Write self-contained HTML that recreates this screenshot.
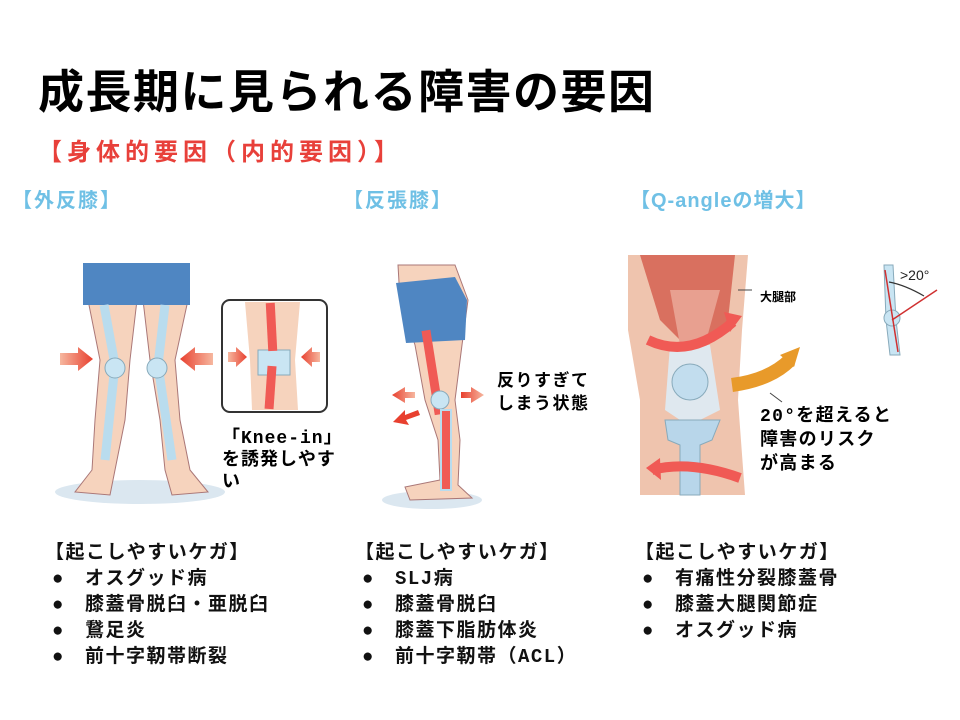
<!DOCTYPE html>
<html><head><meta charset="utf-8"><style>
body{margin:0;width:960px;height:720px;background:#fff;position:relative;overflow:hidden;font-family:"Liberation Sans","Noto Sans CJK JP",sans-serif;}
.t{position:absolute;white-space:nowrap;font-weight:bold;}
.h{color:#6fc0e5;font-size:20px;letter-spacing:2px;}
.m{font-family:"Liberation Mono","Noto Sans CJK JP",monospace;}
.l{font-size:19px;line-height:26px;color:#111;letter-spacing:1.5px;font-family:"Liberation Mono","Noto Sans CJK JP",monospace;}
.l span{display:inline-block;width:40px;padding-left:7px;box-sizing:border-box;letter-spacing:0;}
svg{position:absolute;left:0;top:0;}
</style></head><body>
<svg width="960" height="720">
<defs>
<linearGradient id="ar" x1="0" x2="1"><stop offset="0" stop-color="#f6b79f"/><stop offset="1" stop-color="#e8402f"/></linearGradient>
<linearGradient id="al" x1="1" x2="0"><stop offset="0" stop-color="#f6b79f"/><stop offset="1" stop-color="#e8402f"/></linearGradient>
</defs>
<ellipse cx="140" cy="492" rx="85" ry="12" fill="#dbe7f0"/>
<path d="M88 300 L100 360 L95 420 L92 470 L75 492 L110 495 L115 470 L125 420 L130 360 L137 300Z" fill="#f6d3bd" stroke="#a77" stroke-width="1"/>
<path d="M143 300 L150 360 L160 420 L165 470 L172 495 L208 492 L190 470 L180 420 L175 360 L188 300Z" fill="#f6d3bd" stroke="#a77" stroke-width="1"/>
<rect x="83" y="263" width="107" height="42" fill="#4f86c2"/>
<path d="M104 305 L115 365 L105 460 M165 305 L158 365 L172 460" stroke="#b9dcee" stroke-width="9" fill="none"/>
<circle cx="115" cy="368" r="10" fill="#c9e5f3" stroke="#8ab" /><circle cx="157" cy="368" r="10" fill="#c9e5f3" stroke="#8ab"/>
<path d="M60 353 h18 v-6 l15 12 l-15 12 v-6 h-18z" fill="url(#ar)"/>
<path d="M213 353 h-18 v-6 l-15 12 l15 12 v-6 h18z" fill="url(#al)"/>
<rect x="222" y="300" width="105" height="112" rx="8" fill="#fff" stroke="#333" stroke-width="2"/>
<path d="M245 302 L250 360 L252 410 L298 410 L295 360 L300 302Z" fill="#f6d3bd"/>
<path d="M258 350 h32 v25 h-32z" fill="#c9e5f3" stroke="#8ab"/>
<rect x="267" y="303" width="9" height="48" fill="#f05a55" transform="rotate(-3 271 327)"/>
<rect x="266" y="366" width="9" height="43" fill="#f05a55" transform="rotate(4 270 388)"/>
<path d="M228 352 h8 v-5 l11 10 l-11 10 v-5 h-8z" fill="url(#ar)"/>
<path d="M320 352 h-8 v-5 l-11 10 l11 10 v-5 h8z" fill="url(#al)"/>
<ellipse cx="432" cy="500" rx="50" ry="9" fill="#dbe7f0"/>
<path d="M398 265 L455 265 L468 300 L462 345 L455 400 L460 440 L458 485 L472 498 L410 500 L405 487 L440 480 L438 440 L425 400 L415 345 L400 300Z" fill="#f6d3bd" stroke="#a77" stroke-width="1"/>
<path d="M396 283 L455 277 L467 300 L465 340 L406 343Z" fill="#4f86c2"/>
<rect x="428" y="330" width="9" height="85" fill="#f05a55" transform="rotate(-9 432 372)"/>
<circle cx="440" cy="400" r="9" fill="#c9e5f3" stroke="#8ab"/>
<rect x="441" y="410" width="10" height="80" fill="#f05a55" stroke="#b9dcee" stroke-width="2"/>
<path d="M415 392 h-10 v-5 l-13 8 l13 8 v-5 h10z" fill="url(#al)"/>
<path d="M418 410 l-13 5 v-5 l-12 12 l16 3 l-3 -5 l14 -5z" fill="#e8402f"/>
<path d="M485 392 h-10 v-5 l-13 8 l13 8 v-5 h10z" fill="url(#ar)" transform="rotate(180 473 395)"/>
<path d="M628 255 L748 255 L742 330 L738 400 L745 495 L640 495 L640 400 L628 330Z" fill="#efc4ae"/>
<path d="M640 255 L735 255 L728 320 L705 345 L680 340 L660 320Z" fill="#d9705f"/>
<path d="M670 290 L720 290 L705 345 L680 345Z" fill="#e8a090"/>
<path d="M670 345 L710 345 L720 410 L700 420 L680 420 L665 410Z" fill="#dfe8ef"/>
<circle cx="690" cy="382" r="18" fill="#c2ddee" stroke="#8ab"/>
<path d="M665 420 L720 420 L712 440 L700 445 L700 495 L680 495 L680 445 L668 440Z" fill="#b8d6ea" stroke="#8ab"/>
<path d="M648 340 Q690 360 733 322" stroke="#f05a55" stroke-width="10" fill="none"/>
<path d="M724 312 l18 4 l-12 16z" fill="#f05a55"/>
<path d="M740 478 Q690 460 652 470" stroke="#f05a55" stroke-width="10" fill="none"/>
<path d="M660 458 l-14 10 l15 12z" fill="#f05a55"/>
<path d="M732 385 Q770 380 790 360" stroke="#e89a2a" stroke-width="14" fill="none"/>
<path d="M780 355 l20 -8 l-6 20z" fill="#e89a2a"/>
<line x1="738" y1="290" x2="752" y2="290" stroke="#444"/>
<line x1="770" y1="393" x2="782" y2="402" stroke="#444"/>
<path d="M884 265 L893 265 L896 320 L900 355 L890 355 L886 320Z" fill="#c9e5f3" stroke="#8ab"/>
<circle cx="892" cy="318" r="8" fill="#c9e5f3" stroke="#8ab"/>
<line x1="885" y1="270" x2="898" y2="352" stroke="#d03030" stroke-width="1.5"/>
<line x1="892" y1="320" x2="937" y2="290" stroke="#d03030" stroke-width="1.5"/>
<path d="M889 282 Q905 285 924 296" stroke="#333" fill="none" stroke-width="1.2"/>
<text x="900" y="280" font-size="14" font-family="Liberation Sans" fill="#222">&gt;20°</text>
</svg>
<div class="t" style="left:38px;top:56px;font-size:46px;letter-spacing:1.5px;color:#000;">成長期に見られる障害の要因</div>
<div class="t" style="left:38px;top:132px;font-size:24px;color:#e8403a;letter-spacing:5px;">【身体的要因（内的要因）】</div>
<div class="t h" style="left:12px;top:184px;">【外反膝】</div>
<div class="t h" style="left:343px;top:184px;">【反張膝】</div>
<div class="t h" style="left:630px;top:184px;letter-spacing:1px;">【Q-angleの増大】</div>
<div class="t m" style="left:222px;top:428px;font-size:18px;line-height:22px;letter-spacing:1px;">「Knee-in」<br>を誘発しやす<br>い</div>
<div class="t" style="left:497px;top:369px;font-size:17px;line-height:23px;letter-spacing:1.5px;">反りすぎて<br>しまう状態</div>
<div class="t" style="left:760px;top:288px;font-size:12px;">大腿部</div>
<div class="t m" style="left:760px;top:405px;font-size:18px;line-height:24px;letter-spacing:1.3px;">20°を超えると<br>障害のリスク<br>が高まる</div>
<div class="t l" style="left:45px;top:540px;">【起こしやすいケガ】<br><span>●</span>オスグッド病<br><span>●</span>膝蓋骨脱臼・亜脱臼<br><span>●</span>鵞足炎<br><span>●</span>前十字靭帯断裂</div>
<div class="t l" style="left:355px;top:540px;">【起こしやすいケガ】<br><span>●</span>SLJ病<br><span>●</span>膝蓋骨脱臼<br><span>●</span>膝蓋下脂肪体炎<br><span>●</span>前十字靭帯（ACL）</div>
<div class="t l" style="left:635px;top:540px;">【起こしやすいケガ】<br><span>●</span>有痛性分裂膝蓋骨<br><span>●</span>膝蓋大腿関節症<br><span>●</span>オスグッド病</div>
</body></html>
